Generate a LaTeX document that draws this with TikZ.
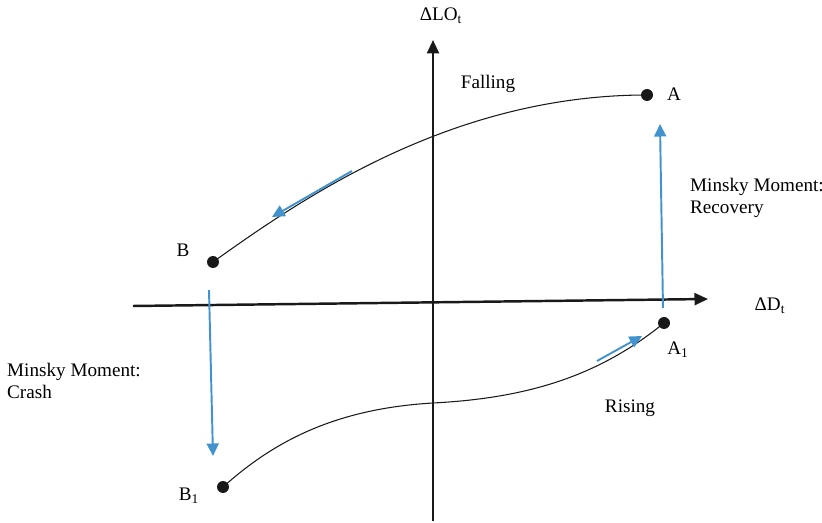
\documentclass[tikz,border=0pt]{standalone}
\usepackage{fontspec}
\setmainfont{Liberation Serif}
\usepackage{xcolor}
\definecolor{minskyblue}{RGB}{66,146,206}
\definecolor{axisblack}{RGB}{25,25,25}
\usetikzlibrary{arrows.meta}

\begin{document}
\begin{tikzpicture}[x=0.02cm, y=-0.02cm, font=\fontsize{10.9}{13}\selectfont,
  axis/.style={-{Triangle[length=0.27cm, width=0.24cm]}, axisblack, line width=1.4pt},
  move/.style={-{Triangle[length=0.25cm, width=0.24cm]}, minskyblue, line width=1.1pt},
  path/.style={axisblack, line width=0.6pt},
  dot/.style={circle, fill=axisblack, inner sep=0pt, minimum size=0.24cm}]
\useasboundingbox (0,0) rectangle (822,523);
% axes
\coordinate (xstart) at (133,306);
\coordinate (xend) at (708,299);
\coordinate (ystart) at (433,521);
\coordinate (yend) at (433,40);
\draw[axis] (xstart) -- (xend);
\draw[axis] (ystart) -- (yend);
\node (ylabel) at (441,16) {ΔLO\textsubscript{t}};
\node (xlabel) at (770,306) {ΔD\textsubscript{t}};
% states
\node[dot] (A) at (647,95) {};
\node[dot] (B) at (213,262) {};
\node[dot] (A1) at (664,323) {};
\node[dot] (B1) at (223,487) {};
\node (Alabel) at (674,94) {A};
\node (Blabel) at (183,250) {B};
\node (A1label) at (678,350) {A\textsubscript{1}};
\node (B1label) at (189,496) {B\textsubscript{1}};
% falling branch
\draw[path] (B.center) .. controls (300,200) and (450,95) .. (A.center);
\coordinate (fallS) at (352,171);
\coordinate (fallE) at (272,217);
\draw[move] (fallS) -- (fallE);
\node (falling) at (488,84) {Falling};
% rising branch
\coordinate (mid) at (433,403);
\draw[path] (B1.center) .. controls (270,445) and (330,409) .. (mid) .. controls (530,398) and (600,375) .. (A1.center);
\coordinate (riseS) at (597,361);
\coordinate (riseE) at (642,336);
\draw[move] (riseS) -- (riseE);
\node (rising) at (630,408) {Rising};
% minsky moments
\coordinate (recS) at (663,308);
\coordinate (recE) at (660,124);
\draw[move] (recS) -- (recE);
\node[anchor=west, align=left] (recovery) at (684,198) {Minsky Moment:\\Recovery};
\coordinate (crashS) at (209,290);
\coordinate (crashE) at (213,456);
\draw[move] (crashS) -- (crashE);
\node[anchor=west, align=left] (crash) at (1,381) {Minsky Moment:\\Crash};
\end{tikzpicture}
\end{document}
